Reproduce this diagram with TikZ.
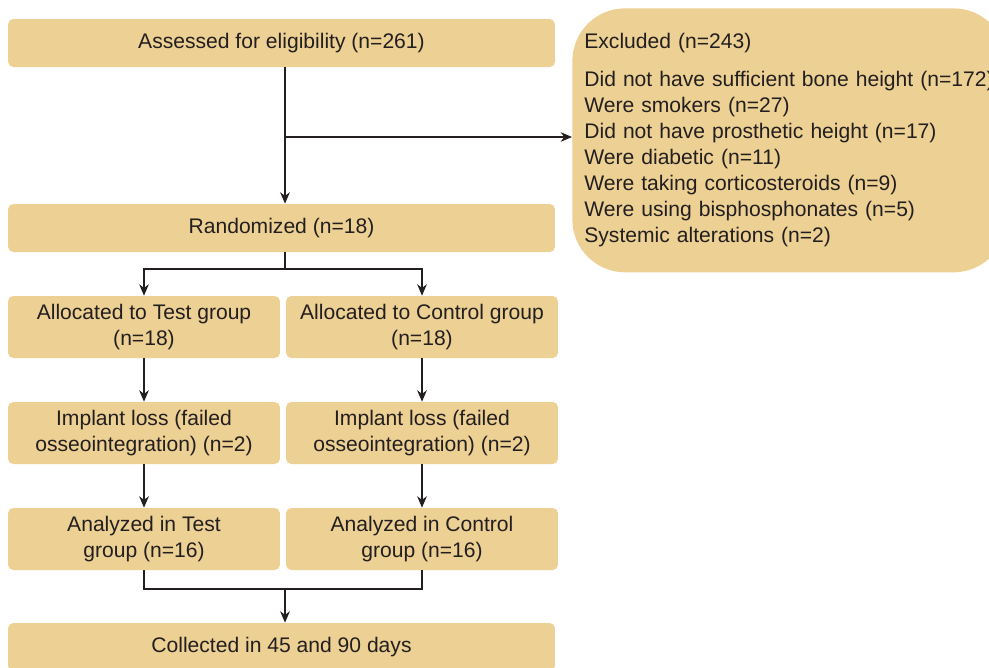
\documentclass[tikz,border=0pt]{standalone}
\usepackage{fontspec}
\setmainfont{Liberation Sans}
\usepackage{xcolor}
\usepackage{tikz}
\usetikzlibrary{positioning,arrows.meta,calc}
\definecolor{sand}{HTML}{EDD093}
\definecolor{ink}{HTML}{231F20}
\tikzset{
  box/.style={draw=none,fill=sand,rounded corners=3pt,inner sep=2pt,text=ink,align=center,
    font=\fontsize{12}{14.8}\selectfont},
  wide/.style={box,minimum width=10.94cm,minimum height=0.96cm},
  half/.style={box,minimum width=5.44cm,minimum height=1.24cm},
  arr/.style={-{Stealth[length=6.5pt,width=5.5pt]},line width=0.6pt,ink},
  ln/.style={line width=0.6pt,ink},
}

\begin{document}
\begin{tikzpicture}[x=0.02cm,y=-0.02cm]
\useasboundingbox (0,0) rectangle (989,667);
\node[wide] (assess) at (281.5,43) {Assessed for eligibility (n=261)};
\node[box,anchor=north west,rounded corners=30pt,text width=8.2cm,align=left,inner xsep=0.24cm,
  minimum height=5.28cm] (excl) at (572,8)
  {Excluded (n=243)\\[7pt]
   Did not have sufficient bone height (n=172)\\
   Were smokers (n=27)\\
   Did not have prosthetic height (n=17)\\
   Were diabetic (n=11)\\
   Were taking corticosteroids (n=9)\\
   Were using bisphosphonates (n=5)\\
   Systemic alterations (n=2)};
\node[wide] (rand) at (281.5,228) {Randomized (n=18)};
\node[half] (allocT) at (144,327) {Allocated to Test group\\(n=18)};
\node[half] (allocC) at (422,327) {Allocated to Control group\\(n=18)};
\node[half] (lossT) at (144,433) {Implant loss (failed\\osseointegration) (n=2)};
\node[half] (lossC) at (422,433) {Implant loss (failed\\osseointegration) (n=2)};
\node[half] (anaT) at (144,539) {Analyzed in Test\\group (n=16)};
\node[half] (anaC) at (422,539) {Analyzed in Control\\group (n=16)};
\node[wide] (coll) at (281.5,647) {Collected in 45 and 90 days};
\coordinate (branch) at (285,137);
\coordinate (split) at (285,269);
\coordinate (merge) at (285,589);
\draw[arr] (assess.south -| branch) -- (rand.north -| branch);
\draw[arr] (branch) -- (branch -| excl.west);
\draw[ln] (rand.south -| split) -- (split);
\draw[arr] (split) -| (allocT);
\draw[arr] (split) -| (allocC);
\draw[arr] (allocT) -- (lossT); \draw[arr] (allocC) -- (lossC);
\draw[arr] (lossT) -- (anaT); \draw[arr] (lossC) -- (anaC);
\draw[ln] (anaT) |- (merge); \draw[ln] (anaC) |- (merge);
\draw[arr] (merge) -- (coll.north -| merge);
\end{tikzpicture}
\end{document}
